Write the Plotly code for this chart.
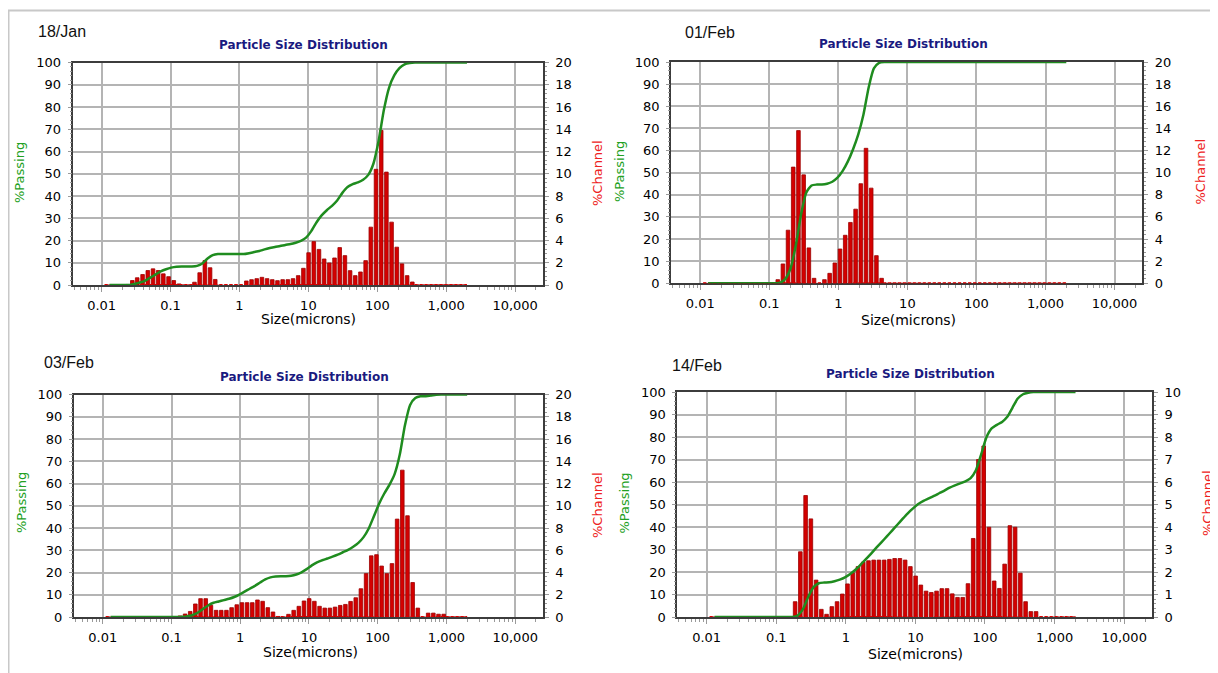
import plotly.graph_objects as go

W, H = 1218, 673

# ---------------- data ----------------
channel_edges = [0.011, 0.013, 0.015, 0.018, 0.022, 0.026, 0.030, 0.036, 0.043, 0.051,
                 0.061, 0.072, 0.086, 0.102, 0.122, 0.145, 0.172, 0.204, 0.243, 0.289,
                 0.344, 0.409, 0.486, 0.578, 0.688, 0.818, 0.972, 1.156, 1.375, 1.635,
                 1.945, 2.312, 2.750, 3.270, 3.889, 4.625, 5.500, 6.541, 7.778, 9.250,
                 11.00, 13.08, 15.56, 18.50, 22.00, 26.16, 31.11, 37.00, 44.00, 52.33,
                 62.23, 74.00, 88.00, 104.7, 124.5, 148.0, 176.0, 209.3, 248.9, 296.0,
                 352.0, 418.6, 497.7, 591.9, 703.9, 837.1, 995.6, 1184, 1408, 1674, 2000]

dates = ["18/Jan", "01/Feb", "03/Feb", "14/Feb"]

channel_jan18 = [0, 0, 0, 0, 0.05, 0.4, 0.65, 0.94, 1.3, 1.45,
                 1.3, 1.0, 0.75, 0.4, 0.1, 0, 0, 0.25, 1.1, 2.2,
                 1.55, 0.5, 0, 0, 0, 0, 0, 0.36, 0.48, 0.57,
                 0.69, 0.57, 0.48, 0.39, 0.48, 0.48, 0.57, 0.84, 1.5, 2.9,
                 3.9, 3.2, 2.34, 1.98, 2.43, 3.36, 2.64, 1.29, 0.84, 1.17,
                 2.19, 5.2, 10.4, 13.9, 10.15, 5.65, 3.4, 1.9, 0.84, 0.27,
                 0, 0, 0, 0, 0, 0, 0, 0, 0, 0]
channel_feb01 = [0, 0, 0, 0, 0, 0, 0, 0, 0, 0,
                 0, 0, 0, 0, 0.33, 1.75, 4.8, 10.5, 13.8, 9.8,
                 3.2, 0.45, 0, 0.33, 0.9, 1.84, 3.1, 4.34, 5.5, 6.7,
                 9.0, 12.2, 8.6, 2.5, 0.45, 0, 0, 0, 0, 0,
                 0, 0, 0, 0, 0, 0, 0, 0, 0, 0,
                 0, 0, 0, 0, 0, 0, 0, 0, 0, 0,
                 0, 0, 0, 0, 0, 0, 0, 0, 0, 0]
channel_feb03 = [0, 0, 0, 0, 0, 0, 0, 0, 0, 0,
                 0, 0, 0, 0, 0.1, 0.27, 0.5, 1.17, 1.65, 1.65,
                 1.05, 0.6, 0.6, 0.6, 0.84, 1.1, 1.29, 1.29, 1.29, 1.53,
                 1.41, 0.84, 0.45, 0.05, 0, 0.24, 0.6, 0.96, 1.44, 1.65,
                 1.41, 0.96, 0.8, 0.8, 0.89, 1.04, 1.13, 1.4, 1.73, 2.54,
                 3.9, 5.5, 5.6, 4.58, 3.9, 4.8, 8.8, 13.2, 9.1, 3.1,
                 0.8, 0, 0.35, 0.35, 0.25, 0.25, 0, 0, 0, 0]
channel_feb14 = [0, 0, 0, 0, 0, 0, 0, 0, 0, 0,
                 0, 0, 0, 0, 0, 0, 0.68, 2.9, 5.4, 4.36,
                 1.64, 0.34, 0.12, 0.46, 0.68, 1.02, 1.47, 1.97, 2.24, 2.44,
                 2.5, 2.53, 2.53, 2.53, 2.56, 2.6, 2.6, 2.53, 2.24, 1.82,
                 1.42, 1.15, 1.09, 1.15, 1.26, 1.26, 1.03, 0.87, 0.87, 1.48,
                 3.49, 7.0, 7.6, 3.99, 1.6, 1.27, 2.35, 4.06, 3.99, 1.95,
                 0.68, 0.24, 0.24, 0, 0, 0, 0, 0, 0, 0]

passing_jan18 = [0, 0, 0, 0, 0, 0.05, 0.45, 1.1, 2.0, 3.3,
                 4.8, 6.1, 7.1, 7.8, 8.2, 8.3, 8.3, 8.3, 8.6, 9.7,
                 11.9, 13.4, 13.9, 13.9, 13.9, 13.9, 13.9, 13.9, 14.3, 14.8,
                 15.3, 16.0, 16.6, 17.1, 17.5, 18.0, 18.4, 19.0, 19.8, 21.3,
                 24.2, 28.1, 31.3, 33.6, 35.6, 38.0, 41.4, 44.0, 45.3, 46.1,
                 47.3, 49.5, 54.6, 64.9, 78.6, 88.6, 94.2, 97.5, 99.2, 99.8,
                 100, 100, 100, 100, 100, 100, 100, 100, 100, 100, 100]
passing_feb01 = [0, 0, 0, 0, 0, 0, 0, 0, 0, 0,
                 0, 0, 0, 0, 0, 0.3, 2.1, 6.9, 17.4, 31.2,
                 41.0, 44.2, 44.6, 44.6, 45.0, 45.9, 47.7, 50.8, 55.1, 60.6,
                 67.3, 76.3, 88.5, 97.1, 99.6, 100, 100, 100, 100, 100,
                 100, 100, 100, 100, 100, 100, 100, 100, 100, 100,
                 100, 100, 100, 100, 100, 100, 100, 100, 100, 100,
                 100, 100, 100, 100, 100, 100, 100, 100, 100, 100, 100]
passing_feb03 = [0, 0, 0, 0, 0, 0, 0, 0, 0, 0,
                 0, 0, 0, 0, 0, 0.1, 0.4, 0.9, 2.0, 3.7,
                 5.3, 6.4, 7.0, 7.6, 8.2, 9.0, 10.1, 11.4, 12.7, 14.0,
                 15.5, 16.9, 17.8, 18.2, 18.3, 18.3, 18.5, 19.1, 20.1, 21.5,
                 23.2, 24.6, 25.5, 26.3, 27.1, 28.0, 29.1, 30.2, 31.6, 33.3,
                 35.9, 39.8, 45.3, 50.9, 55.5, 59.4, 64.2, 73.0, 86.2, 95.3,
                 98.4, 99.2, 99.2, 99.5, 99.9, 100, 100, 100, 100, 100, 100]
passing_feb14 = [0, 0, 0, 0, 0, 0, 0, 0, 0, 0,
                 0, 0, 0, 0, 0, 0, 0, 0.7, 3.6, 9.0,
                 13.3, 15.0, 15.3, 15.4, 15.9, 16.6, 17.6, 19.1, 21.0, 23.3,
                 25.7, 28.2, 30.8, 33.3, 35.8, 38.4, 41.0, 43.6, 46.1, 48.3,
                 50.2, 51.6, 52.7, 53.8, 55.0, 56.2, 57.5, 58.5, 59.4, 60.3,
                 61.7, 65.2, 72.2, 79.8, 83.8, 85.4, 86.7, 89.0, 93.1, 97.1,
                 99.0, 99.7, 100, 100, 100, 100, 100, 100, 100, 100, 100]

x_tick_vals = [0.01, 0.1, 1, 10, 100, 1000, 10000]
x_tick_text = ["0.01", "0.1", "1", "10", "100", "1,000", "10,000"]
passing_ticks = [0, 10, 20, 30, 40, 50, 60, 70, 80, 90, 100]
channel_max = [20, 20, 20, 10]

channels = [channel_jan18, channel_feb01, channel_feb03, channel_feb14]
passings = [passing_jan18, passing_feb01, passing_feb03, passing_feb14]

# ---------------- geometry / style ----------------
centers = [(a * b) ** 0.5 for a, b in zip(channel_edges[:-1], channel_edges[1:])]
bar_widths = [c * 0.12 for c in centers]
minor_x = [m * 10 ** e for e in range(-3, 5) for m in range(2, 10)]

# target pixel positions in the 1218x673 picture
panels = [
    dict(x0=72.7, x1=542.7, y0=62.5, y1=285.0),
    dict(x0=671.2, x1=1142.2, y0=62.0, y1=283.3),
    dict(x0=73.9, x1=542.7, y0=394.5, y1=617.0),
    dict(x0=677.4, x1=1152.0, y0=392.0, y1=617.0),
]
labels = [
    dict(date=(36, 31.5), title=(303.3, 45), passing=(19, 173), channel=(597, 173), size=(308, 319)),
    dict(date=(683, 33), title=(903.3, 44), passing=(619, 172), channel=(1199.5, 172), size=(908.7, 320)),
    dict(date=(42, 362.5), title=(304.6, 376.7), passing=(21, 503), channel=(597, 505), size=(310, 652)),
    dict(date=(670, 365), title=(910.8, 374.3), passing=(623.6, 503), channel=(1207, 503), size=(915.3, 654)),
]

# the page body has an 8px margin: compensate so the figure lands where the reference has it
OFF = 8.0


def fx(px):
    return (px - OFF) / W


def fy(py):
    return 1 - (py - OFF) / H


TICKFONT = dict(family="DejaVu Sans", size=13, color="#000000")
GRID = "#b4b4b4"
FRAME = "#3c3c3c"
GREEN = "#1f8c1f"
RED_FILL = "#d40000"
RED_EDGE = "#9c0000"

fig = go.Figure()
layout = dict(
    width=W, height=H,
    margin=dict(l=0, r=0, t=0, b=0, autoexpand=False),
    paper_bgcolor="white", plot_bgcolor="white",
    showlegend=False,
    barmode="overlay",
)
annotations = []

for k in range(4):
    p = panels[k]
    xname = "x" if k == 0 else f"x{k + 1}"
    ybar = "y" if k == 0 else f"y{2 * k + 1}"
    yline = f"y{2 * k + 2}"
    xkey = "xaxis" if k == 0 else f"xaxis{k + 1}"
    ybkey = "yaxis" if k == 0 else f"yaxis{2 * k + 1}"
    ylkey = f"yaxis{2 * k + 2}"
    cmax = channel_max[k]

    fig.add_trace(go.Bar(
        x=centers, y=channels[k], width=bar_widths,
        xaxis=xname, yaxis=ybar,
        marker=dict(color=RED_FILL, line=dict(color=RED_EDGE, width=0.8)),
        hoverinfo="x+y",
    ))
    fig.add_trace(go.Scatter(
        x=[channel_edges[0], channel_edges[-1]], y=[0, 0],
        xaxis=xname, yaxis=ybar, mode="lines",
        line=dict(color="#e00000", width=2, dash="3px,2px"),
        hoverinfo="skip", cliponaxis=False,
    ))
    fig.add_trace(go.Scatter(
        x=channel_edges[1:], y=passings[k][1:],
        xaxis=xname, yaxis=yline, mode="lines",
        line=dict(color=GREEN, width=2.5, shape="spline", smoothing=0.6),
        cliponaxis=False,
    ))

    dom_x = [fx(p["x0"]), fx(p["x1"])]
    dom_y = [fy(p["y1"]), fy(p["y0"])]

    layout[xkey] = dict(
        type="log", domain=dom_x, range=[-2.42, 4.40], anchor=ybar,
        tickvals=x_tick_vals, ticktext=x_tick_text, tickfont=TICKFONT,
        ticks="outside", ticklen=5, tickcolor="#9a9a9a", tickwidth=1,
        minor=dict(tickvals=minor_x, ticks="outside", ticklen=3, tickcolor="#9a9a9a", showgrid=False),
        showgrid=True, gridcolor=GRID, gridwidth=2,
        showline=True, mirror=True, linecolor=FRAME, linewidth=2,
        zeroline=False, layer="below traces", ticklabelstandoff=2, automargin=False,
    )
    layout[ybkey] = dict(
        domain=dom_y, range=[0, cmax], anchor=xname, side="right",
        tickmode="linear", tick0=0, dtick=cmax / 10, tickfont=TICKFONT,
        ticks="outside", ticklen=4, tickcolor="#9a9a9a",
        minor=dict(dtick=cmax / 50, ticks="outside", ticklen=2, tickcolor="#9a9a9a", showgrid=False),
        showgrid=True, gridcolor=GRID, gridwidth=2,
        showline=True, mirror=True, linecolor=FRAME, linewidth=2,
        zeroline=False, layer="below traces", fixedrange=True, ticklabelstandoff=4, automargin=False,
    )
    layout[ylkey] = dict(
        overlaying=ybar, anchor=xname, side="left", range=[0, 100],
        tickvals=passing_ticks, tickfont=TICKFONT,
        ticks="outside", ticklen=4, tickcolor="#9a9a9a",
        minor=dict(dtick=2, ticks="outside", ticklen=2, tickcolor="#9a9a9a", showgrid=False),
        showgrid=False, showline=False, zeroline=False, ticklabelstandoff=4, automargin=False,
    )

    lb = labels[k]
    annotations += [
        dict(text=dates[k], x=fx(lb["date"][0]), y=fy(lb["date"][1]), xanchor="left", yanchor="middle",
             font=dict(family="Liberation Sans", size=16, color="#111111")),
        dict(text="<b>Particle Size Distribution</b>", x=fx(lb["title"][0]), y=fy(lb["title"][1]),
             xanchor="center", yanchor="middle",
             font=dict(family="DejaVu Sans", size=12, color="#1a1a80")),
        dict(text="%Passing", x=fx(lb["passing"][0]), y=fy(lb["passing"][1]), textangle=-90,
             xanchor="center", yanchor="middle",
             font=dict(family="DejaVu Sans", size=13, color="#22a022")),
        dict(text="%Channel", x=fx(lb["channel"][0]), y=fy(lb["channel"][1]), textangle=-90,
             xanchor="center", yanchor="middle",
             font=dict(family="DejaVu Sans", size=13, color="#ee2222")),
        dict(text="Size(microns)", x=fx(lb["size"][0]), y=fy(lb["size"][1]),
             xanchor="center", yanchor="middle",
             font=dict(family="DejaVu Sans", size=14, color="#000000")),
    ]

for a in annotations:
    a.update(xref="paper", yref="paper", showarrow=False)

layout["annotations"] = annotations
layout["shapes"] = [
    dict(type="line", xref="paper", yref="paper", x0=fx(8), x1=1.0, y0=fy(10.5), y1=fy(10.5),
         line=dict(color="#c8c8c8", width=2)),
    dict(type="line", xref="paper", yref="paper", x0=fx(8.5), x1=fx(8.5), y0=fy(10.5), y1=0.0,
         line=dict(color="#c8c8c8", width=2)),
]

fig.update_layout(**layout)
fig.write_html("out.html")
